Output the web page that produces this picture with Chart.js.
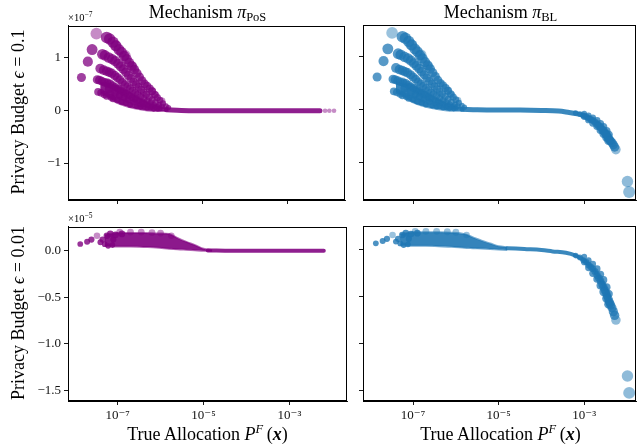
<!DOCTYPE html>
<html>
<head>
<meta charset="utf-8">
<script src="https://cdn.jsdelivr.net/npm/chart.js@4.4.1/dist/chart.umd.min.js"></script>
<style>
body { margin: 0; width: 639px; height: 446px; overflow: hidden; background: #fff; position: relative; font-family: 'Liberation Serif', 'DejaVu Serif', serif; color: #000; }
canvas { position: absolute; }
.lbl { position: absolute; font-size: 18px; line-height: 20px; white-space: nowrap; text-align: center; }
.lbl sub { font-size: 12.5px; vertical-align: -3px; line-height: 0; }
.lbl sup { font-size: 12.5px; vertical-align: 7px; line-height: 0; }
.rot { transform: rotate(-90deg); transform-origin: 50% 50%; }
.off { position: absolute; font-size: 10.5px; line-height: 12px; white-space: nowrap; }
.off sup { font-size: 7.5px; vertical-align: 4px; line-height: 0; }
</style>
</head>
<body>
<canvas id="tl" width="343" height="215" style="left:8px;top:15px;width:343px;height:215px"></canvas>
<canvas id="tr" width="339" height="215" style="left:303px;top:15px;width:339px;height:215px"></canvas>
<canvas id="bl" width="343" height="215" style="left:8px;top:216px;width:343px;height:215px"></canvas>
<canvas id="br" width="339" height="215" style="left:303px;top:216px;width:339px;height:215px"></canvas>

<div class="lbl" style="left:68px;top:2px;width:279px">Mechanism <i>π</i><sub>PoS</sub></div>
<div class="lbl" style="left:363px;top:2px;width:275px">Mechanism <i>π</i><sub>BL</sub></div>
<div class="lbl rot" style="left:-82px;top:102px;width:200px">Privacy Budget <i>ϵ</i> = 0.1</div>
<div class="lbl rot" style="left:-82px;top:303px;width:200px">Privacy Budget <i>ϵ</i> = 0.01</div>
<div class="lbl" style="left:68px;top:424px;width:279px">True Allocation <i>P</i><sup><i>F</i></sup>&#8201;(<b><i>x</i></b>)</div>
<div class="lbl" style="left:363px;top:424px;width:275px">True Allocation <i>P</i><sup><i>F</i></sup>&#8201;(<b><i>x</i></b>)</div>
<div class="off" style="left:68px;top:12px">×10<sup>−7</sup></div>
<div class="off" style="left:68px;top:213px">×10<sup>−5</sup></div>

<script>
'use strict';
// ---- epsilon = 0.1 row, y in units of 1e-7, x as log10 of allocation ----
// low-allocation arcs (same for both mechanisms)
const lowLogX01 = [
  -7.25, -7.18, -7.10, -7.03, -6.96, -6.90, -6.84, -6.78, -6.72, -6.66, -6.60, -6.54, -6.48, -6.42, -6.36, -6.30, -6.24, -6.18, -6.12, -6.06, -6.00, -5.93, -5.86, -5.80,
  -7.59, -7.35, -7.29, -7.20, -7.12, -7.05, -6.98, -6.92, -6.86, -6.80, -6.74, -6.68, -6.62, -6.56, -6.50, -6.44, -6.38, -6.32, -6.25, -6.18, -6.10, -6.02, -5.95,
  -7.69, -7.40, -7.32, -7.25, -7.19, -7.13, -7.06, -7.00, -6.94, -6.88, -6.82, -6.76, -6.70, -6.64, -6.58, -6.52, -6.45, -6.38, -6.30, -6.22, -6.14, -6.05,
  -7.84, -7.47, -7.42, -7.36, -7.30, -7.23, -7.17, -7.11, -7.05, -6.98, -6.92, -6.86, -6.80, -6.72, -6.65, -6.58, -6.50, -6.42, -6.35, -6.28, -6.20, -6.10, -6.00,
  -7.45, -7.38, -7.30, -7.20, -7.25, -7.15, -7.10, -7.05, -7.00, -6.95, -6.90, -6.85, -6.80, -6.75, -6.70, -6.62, -6.55, -6.48, -6.45, -6.38, -6.30, -6.22, -6.15, -6.05];
const lowY01 = [
  1.38, 1.35, 1.29, 1.22, 1.15, 1.10, 1.03, 0.97, 0.90, 0.84, 0.77, 0.70, 0.63, 0.56, 0.50, 0.46, 0.41, 0.36, 0.30, 0.24, 0.19, 0.13, 0.08, 0.05,
  1.15, 1.06, 1.04, 1.00, 0.97, 0.93, 0.88, 0.83, 0.78, 0.72, 0.66, 0.60, 0.54, 0.49, 0.44, 0.39, 0.34, 0.30, 0.25, 0.20, 0.15, 0.10, 0.07,
  0.92, 0.79, 0.76, 0.74, 0.72, 0.70, 0.66, 0.62, 0.58, 0.53, 0.49, 0.45, 0.41, 0.37, 0.33, 0.30, 0.26, 0.22, 0.18, 0.14, 0.10, 0.07,
  0.62, 0.58, 0.57, 0.55, 0.53, 0.51, 0.50, 0.47, 0.44, 0.41, 0.38, 0.35, 0.32, 0.28, 0.24, 0.21, 0.18, 0.15, 0.12, 0.09, 0.07, 0.05, 0.03,
  0.35, 0.33, 0.30, 0.40, 0.27, 0.25, 0.22, 0.33, 0.20, 0.28, 0.16, 0.24, 0.14, 0.20, 0.10, 0.15, 0.08, 0.11, 0.06, 0.07, 0.04, 0.045, 0.02, 0.015];
const lightLogX01 = [-7.49, -7.05, -6.81, -6.64, -7.24, -7.16, -6.19, -6.10, -5.95];
const lightY01 = [1.45, 1.23, 1.04, 0.82, 0.53, 0.32, 0.36, 0.28, 0.18];
// dense mass under the arcs
const massLogX01 = [-7.4, -7.2, -7.0, -6.8, -6.6, -6.4, -6.2, -6.0, -5.8];
const massTop01 = [0.52, 0.50, 0.46, 0.38, 0.29, 0.20, 0.13, 0.07, 0.03];
const massBottom01 = [0.34, 0.24, 0.14, 0.08, 0.04, 0.01, -0.01, -0.015, -0.015];
// pi_PoS ribbon
const posTrailLogX01 = [-5.85, -5.5, -5.0, -4.5, -4.0, -3.5, -3.0, -2.6, -2.25];
const posTrailY01 = [0.01, -0.005, -0.01, -0.01, -0.01, -0.01, -0.01, -0.01, -0.01];
const posEndLogX01 = [-2.13, -2.03, -1.92];
const posEndY01 = [-0.01, -0.01, -0.01];
// pi_BL ribbon
const blTrailLogX01 = [-5.85, -5.5, -5.0, -4.5, -4.0, -3.6, -3.35, -3.2, -3.04, -2.88, -2.73, -2.6, -2.5, -2.42];
const blTrailY01 = [0.01, 0, -0.005, -0.005, -0.01, -0.02, -0.05, -0.07, -0.10, -0.16, -0.24, -0.33, -0.42, -0.5];
// pi_BL high-allocation tail (same in scaled units for both budgets)
const blTailLogX = [
  -3.20, -3.10, -3.02, -2.95, -2.90, -2.85, -2.80, -2.75, -2.70, -2.66, -2.62, -2.58, -2.55, -2.52, -2.49, -2.47, -2.44, -2.42, -2.40, -2.38, -2.35, -2.32, -2.29,
  -3.00, -2.90, -2.80, -2.70, -2.62, -2.55, -2.48, -2.43,
  -3.00, -2.90, -2.80, -2.70, -2.62, -2.55, -2.48, -2.43];
const blTailY = [
  -0.06, -0.08, -0.11, -0.13, -0.16, -0.18, -0.20, -0.23, -0.27, -0.30, -0.33, -0.37, -0.40, -0.43, -0.46, -0.49, -0.52, -0.55, -0.57, -0.59, -0.62, -0.66, -0.70,
  -0.07, -0.11, -0.15, -0.20, -0.26, -0.32, -0.40, -0.47,
  -0.13, -0.19, -0.25, -0.31, -0.38, -0.45, -0.52, -0.58];
const blOutLogX = [-2.26, -1.99, -1.95];
const blOutY01 = [-0.75, -1.35, -1.55];

// ---- epsilon = 0.01 row, y in units of 1e-5 ----
const lowLogX001 = [-7.87, -7.71, -7.61, -7.40, -7.35, -7.30, -7.25, -7.22, -7.17, -7.12, -7.10, -7.05, -6.90];
const lowY001 = [0.072, 0.096, 0.12, 0.09, 0.12, 0.07, 0.16, 0.05, 0.18, 0.06, 0.12, 0.17, 0.18];
const lightLogX001 = [-7.48, -6.95, -6.70, -6.45, -6.20, -6.00, -5.75];
const lightY001 = [0.16, 0.20, 0.20, 0.20, 0.195, 0.19, 0.16];
const wedgeLogX001 = [-7.3, -7.0, -6.7, -6.4, -6.1, -5.8, -5.6, -5.4, -5.2, -5.0, -4.8];
const posWedgeTop001 = [0.17, 0.19, 0.19, 0.19, 0.185, 0.18, 0.135, 0.095, 0.06, 0.02, 0.005];
const posWedgeBottom001 = [0.05, 0.045, 0.045, 0.04, 0.035, 0.022, 0.015, 0.01, 0.005, 0.0, -0.003];
const blWedgeTop001 = [0.17, 0.19, 0.19, 0.19, 0.185, 0.17, 0.135, 0.10, 0.07, 0.04, 0.03];
const blWedgeBottom001 = [0.05, 0.045, 0.045, 0.04, 0.035, 0.025, 0.02, 0.015, 0.01, 0.005, 0.0];
const posTrailLogX001 = [-4.9, -4.5, -4.0, -3.5, -3.0, -2.5, -2.2];
const posTrailY001 = [0.002, 0, 0, 0, 0, 0, 0];
const blTrailLogX001 = [-4.8, -4.4, -4.0, -3.74, -3.43, -3.2, -3.04, -2.88, -2.73, -2.6, -2.5, -2.42];
const blTrailY001 = [0.02, 0.01, 0.0, -0.015, -0.03, -0.06, -0.10, -0.16, -0.24, -0.33, -0.42, -0.5];
const blOutY001 = [-0.75, -1.35, -1.53];

// ticks
const xTickExp = [-7, -5, -3];
const yTicks01 = [-1, 0, 1];
const yTicks001 = [-1.5, -1.0, -0.5, 0];

const PURPLE = [128, 0, 128];
const BLUE = [31, 119, 180];
const FONT = "'Liberation Serif', 'DejaVu Serif', serif";

function rgba(c, a) { return 'rgba(' + c[0] + ',' + c[1] + ',' + c[2] + ',' + a + ')'; }
function pts(lx, ly) { return lx.map((v, i) => ({ x: Math.pow(10, v), y: ly[i] })); }
function rad(y) { return 2.0 + 4.0 * Math.sqrt(Math.abs(y) / 1.55); }

const supMap = { '-': '⁻', '0': '⁰', '1': '¹', '2': '²', '3': '³', '4': '⁴', '5': '⁵', '6': '⁶', '7': '⁷', '8': '⁸', '9': '⁹' };
function sup(n) { return String(n).split('').map(ch => supMap[ch]).join(''); }

const frame = {
  id: 'frame',
  afterDraw(c) {
    const a = c.chartArea, ctx = c.ctx;
    ctx.save();
    ctx.strokeStyle = '#000';
    ctx.lineWidth = 1;
    ctx.strokeRect(Math.round(a.left) + 0.5, Math.round(a.top) + 0.5, Math.round(a.right - a.left) - 1, Math.round(a.bottom - a.top) - 1);
    ctx.restore();
  }
};

function pointSet(data, col, alpha) {
  return { data: data, showLine: false, order: 0, pointRadius: ctx => rad(ctx.raw.y),
    pointBackgroundColor: rgba(col, alpha), pointBorderWidth: 0, pointHoverRadius: 0 };
}
function ribbon(data, col, width) {
  return { data: data, showLine: true, order: 1, pointRadius: 0, borderWidth: width, tension: 0.35,
    borderColor: rgba(col, 0.88), borderCapStyle: 'round', fill: false };
}
function band(top, bottom, col) {
  return [
    { data: top, showLine: true, order: 2, pointRadius: 0, borderWidth: 2, tension: 0.3,
      borderColor: rgba(col, 0.6), backgroundColor: rgba(col, 0.9), fill: '+1' },
    { data: bottom, showLine: true, order: 2, pointRadius: 0, borderWidth: 2, tension: 0.3,
      borderColor: rgba(col, 0.6), fill: false }
  ];
}

function panel(id, datasets, xr, yr, yTicks, yFmt, showX, showY) {
  return new Chart(document.getElementById(id), {
    type: 'line',
    data: { datasets: datasets },
    plugins: [frame],
    options: {
      responsive: false,
      animation: false,
      events: [],
      devicePixelRatio: 1,
      layout: { padding: { left: 0, top: 10, right: 4, bottom: 0 } },
      plugins: { legend: { display: false }, tooltip: { enabled: false } },
      scales: {
        x: {
          type: 'logarithmic',
          min: Math.pow(10, xr[0]),
          max: Math.pow(10, xr[1]),
          afterBuildTicks: ax => { ax.ticks = xTickExp.map(e => ({ value: Math.pow(10, e) })); },
          afterFit: ax => { ax.height = 30; },
          ticks: { display: showX, autoSkip: false, maxRotation: 0, padding: 3, color: '#111',
            font: { family: FONT, size: 13 },
            callback: v => '10' + sup(Math.round(Math.log10(v))) },
          grid: { drawOnChartArea: false, drawTicks: true, tickLength: 4, color: '#000', lineWidth: 0.9 },
          border: { display: true, color: '#000', width: 1 }
        },
        y: {
          type: 'linear',
          min: yr[0],
          max: yr[1],
          afterBuildTicks: ax => { ax.ticks = yTicks.map(v => ({ value: v })); },
          afterFit: ax => { ax.width = 60; },
          ticks: { display: showY, autoSkip: false, padding: 3, color: '#111',
            font: { family: FONT, size: 13 },
            callback: v => yFmt(v) },
          grid: { drawOnChartArea: false, drawTicks: true, tickLength: 4, color: '#000', lineWidth: 0.9 },
          border: { display: true, color: '#000', width: 1 }
        }
      }
    }
  });
}

const fmt0 = v => (v < 0 ? '−' : '') + Math.abs(v).toFixed(0);
const fmt1 = v => (v < 0 ? '−' : '') + Math.abs(v).toFixed(1);

const xrLeft = [-8.14, -1.66];
const xrRight = [-8.17, -1.79];
const yr01 = [-1.70, 1.60];
const yr001 = [-1.617, 0.257];

panel('tl', [
  ...band(pts(massLogX01, massTop01), pts(massLogX01, massBottom01), PURPLE),
  ribbon(pts(posTrailLogX01, posTrailY01), PURPLE, 5),
  pointSet(pts(lowLogX01, lowY01), PURPLE, 0.75),
  pointSet(pts(lightLogX01, lightY01), PURPLE, 0.45),
  pointSet(pts(posEndLogX01, posEndY01), PURPLE, 0.45)
], xrLeft, yr01, yTicks01, fmt0, false, true);

panel('tr', [
  ...band(pts(massLogX01, massTop01), pts(massLogX01, massBottom01), BLUE),
  ribbon(pts(blTrailLogX01, blTrailY01), BLUE, 5),
  pointSet(pts(lowLogX01, lowY01), BLUE, 0.75),
  pointSet(pts(lightLogX01, lightY01), BLUE, 0.45),
  pointSet(pts(blTailLogX, blTailY), BLUE, 0.75),
  pointSet(pts(blOutLogX, blOutY01), BLUE, 0.5)
], xrRight, yr01, yTicks01, fmt0, false, false);

panel('bl', [
  ...band(pts(wedgeLogX001, posWedgeTop001), pts(wedgeLogX001, posWedgeBottom001), PURPLE),
  ribbon(pts(posTrailLogX001, posTrailY001), PURPLE, 4),
  pointSet(pts(lowLogX001, lowY001), PURPLE, 0.8),
  pointSet(pts(lightLogX001, lightY001), PURPLE, 0.45)
], xrLeft, yr001, yTicks001, fmt1, true, true);

panel('br', [
  ...band(pts(wedgeLogX001, blWedgeTop001), pts(wedgeLogX001, blWedgeBottom001), BLUE),
  ribbon(pts(blTrailLogX001, blTrailY001), BLUE, 4),
  pointSet(pts(lowLogX001, lowY001), BLUE, 0.8),
  pointSet(pts(lightLogX001, lightY001), BLUE, 0.45),
  pointSet(pts(blTailLogX, blTailY), BLUE, 0.75),
  pointSet(pts(blOutLogX, blOutY001), BLUE, 0.5)
], xrRight, yr001, yTicks001, fmt1, true, false);
</script>
</body>
</html>
